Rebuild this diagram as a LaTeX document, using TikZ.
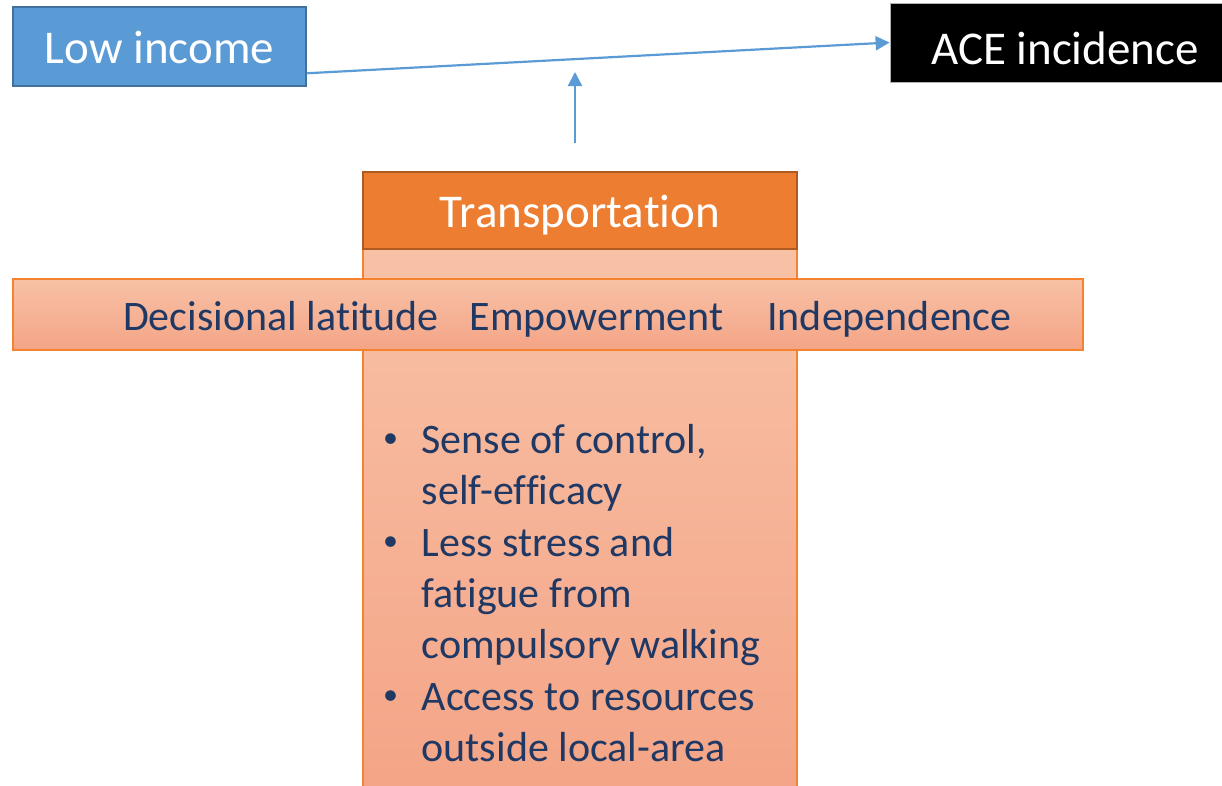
\documentclass[tikz,border=0pt]{standalone}
\usepackage{fontspec}
\setmainfont{Carlito}[Ligatures={NoCommon,NoContextual,NoRequired}]
\usetikzlibrary{arrows.meta,positioning,calc,shapes}
\definecolor{Blue}{HTML}{5B9BD5}
\definecolor{Darkblue}{HTML}{41719C}
\definecolor{Orange}{HTML}{ED7D31}
\definecolor{Darkorange}{HTML}{AE5A21}
\definecolor{Peachtop}{HTML}{F8C1A6}
\definecolor{Peachbottom}{HTML}{F4A486}
\definecolor{Peachline}{HTML}{F4822F}
\definecolor{Navy}{HTML}{203864}
% small raised bullet, then the hanging indent of the list
\newcommand{\bul}{\makebox[36.5pt][l]{\hspace{-2pt}\raisebox{6pt}{\fontsize{30}{30}\selectfont\textbullet}}}
\newcommand{\cont}{\hspace*{36.5pt}}

\begin{document}
\begin{tikzpicture}
[x=1pt,y=-1pt,
    link/.style={Blue,line width=2.2pt,-{Triangle[length=14pt,width=14pt]}},
    block/.style={inner sep=0pt,text=white,text height=33pt,text depth=0pt,
    font=\fontsize{47}{56}\selectfont},
    factor/.style={inner sep=0pt,text=Navy,anchor=base,
    font=\fontsize{42}{51.3}\selectfont},
    panel/.style={inner sep=0pt,draw=Peachline,line width=1.2pt,
    top color=Peachtop,bottom color=Peachbottom}]

\useasboundingbox (0,0) rectangle (1222,785);

%% column behind the band
\node[panel,minimum width=434pt,minimum height=545pt] (column) at (580,521.5) {};
\node[block,fill=Orange,draw=Darkorange,line width=2pt,minimum width=434pt,
minimum height=77pt] (trans) at (580,210.5) {Transportation};

%% the band across
\node[panel,minimum width=1070pt,minimum height=71pt] (band) at (548,314.5) {};
\node[factor] (latitude) at (281,330) {Decisional latitude};
\node[factor] (empower) at (596.5,330) {Empowerment};
\node[factor] (independ) at (889.5,330) {Independence};

%% list of effects
\node[factor,anchor=base west,text width=400pt,align=flush left] (effects) at (385,453.5)
{\bul Sense of control,\\ \cont self-efficacy\\
\bul Less stress and\\ \cont fatigue from\\ \cont compulsory walking\\
\bul Access to resources\\ \cont outside local-area};

%% top row
\node[block,fill=Blue,draw=Darkblue,line width=2.5pt,minimum width=293pt,
minimum height=79pt] (low) at (159.5,46.5) {Low income};
\node[block,fill=black,draw=gray!60,line width=.8pt,text height=43pt,
minimum width=350pt,minimum height=79pt] (ace) at (1065,42.5) {ACE incidence};

\draw[link] ($(low.south east)+(0,-14)$) -- (ace.west);
\coordinate (via) at (575,143);
\coordinate (onlink) at (575,72);
\draw[link] (via) -- (onlink);

\end{tikzpicture}
\end{document}
